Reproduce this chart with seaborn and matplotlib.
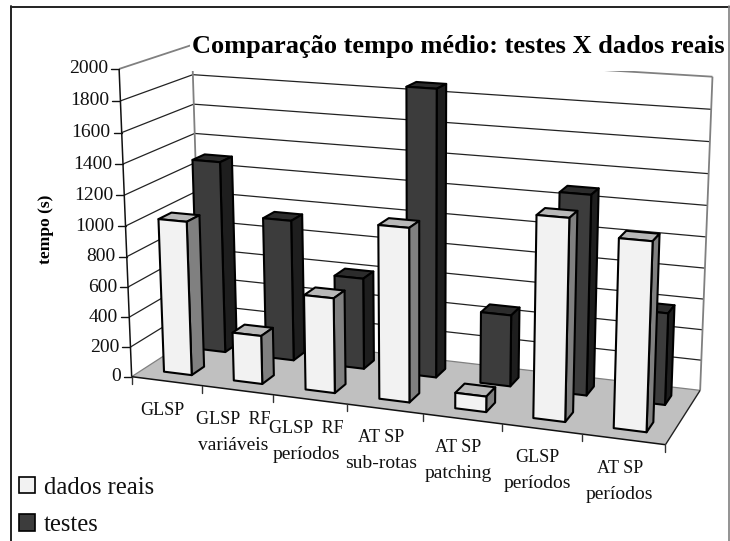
import numpy as np
import matplotlib
matplotlib.use("Agg")
import matplotlib.pyplot as plt
from matplotlib.patches import Polygon, Rectangle, Patch
import seaborn as sns

# ---------- data ----------
categories = ["GLSP", "GLSP  RF\nvariáveis", "GLSP  RF\nperíodos", "AT SP\nsub-rotas",
              "AT SP\npatching", "GLSP\nperíodos", "AT SP\nperíodos"]
dados_reais = [1020, 320, 620, 1115, 100, 1265, 1170]
testes = [1300, 950, 610, 1880, 470, 1290, 590]
series_names = ["dados reais", "testes"]
y_ticks = [0, 200, 400, 600, 800, 1000, 1200, 1400, 1600, 1800, 2000]
title = "Comparação tempo médio: testes X dados reais"
y_label = "tempo (s)"

sns.set_theme(style="white")
plt.rcParams["font.family"] = ["Liberation Serif", "DejaVu Serif"]
front_pal = sns.color_palette(["#F2F2F2", "#808080", "#B8B8B8"])
back_pal = sns.color_palette(["#3C3C3C", "#1E1E1E", "#2C2C2C"])

W, H = 730, 541
fig = plt.figure(figsize=(W / 100, H / 100), dpi=100, facecolor="white")
ax = fig.add_axes([0, 0, 1, 1])
ax.set_xlim(0, W)
ax.set_ylim(H, 0)
ax.axis("off")

# ---------- perspective camera calibrated on the chart box ----------
n = len(categories)
tick_px = [131, 202, 273, 347, 423, 503, 582, 666]
calib = [((k, 0, 0), (x, 376 + (x - 131) * 69 / 535)) for k, x in enumerate(tick_px)]
calib += [((0, 0, 2000), (119.5, 69)), ((0, 0, 1600), (122, 133.3)), ((0, 0, 1000), (125.5, 226)),
          ((0, 0, 400), (129, 318)),
          ((0, 1, 0), (202, 333)), ((0, 1, 1800), (192.7, 74)), ((0, 1, 1400), (193.5, 133)),
          ((0, 1, 2000), (192.5, 45)),
          ((n, 1, 0), (700, 390)), ((n, 1, 2000), (713, 76)), ((n, 1, 1800), (711, 110)),
          ((n, 1, 1400), (708, 174))]
A = []
for (u, d, z), (px, py) in calib:
    z = z / 1000
    A.append([u, d, z, 1, 0, 0, 0, 0, -px * u, -px * d, -px * z, -px])
    A.append([0, 0, 0, 0, u, d, z, 1, -py * u, -py * d, -py * z, -py])
P = np.linalg.svd(np.array(A))[2][-1].reshape(3, 4)


def proj(u, d, z):
    v = P @ np.array([u, d, z / 1000, 1.0])
    return v[0] / v[2], v[1] / v[2]


def poly(pts, fc, ec="none", lw=0.0, z=1):
    ax.add_patch(Polygon([proj(*p) for p in pts], closed=True, fc=fc, ec=ec, lw=lw,
                         joinstyle="round", zorder=z))


def line(a, b, color="#222222", lw=0.9, z=2):
    pa, pb = proj(*a), proj(*b)
    ax.plot([pa[0], pb[0]], [pa[1], pb[1]], color=color, lw=lw, zorder=z, solid_capstyle="butt")


top = y_ticks[-1]
# floor
poly([(0, 0, 0), (n, 0, 0), (n, 1, 0), (0, 1, 0)], "#C0C0C0", z=1)
# grid on the two walls
for t in y_ticks[1:-1]:
    line((0, 0, t), (0, 1, t))
    line((0, 1, t), (n, 1, t))
GRAY = "#808080"
line((0, 0, top), (0, 1, top), GRAY, 1.3)
line((0, 1, top), (n, 1, top), GRAY, 1.3)
line((0, 1, 0), (0, 1, top), GRAY, 1.3)
line((n, 1, 0), (n, 1, top), GRAY, 1.3)
line((0, 0, 0), (0, 1, 0), GRAY, 0.9)
line((0, 1, 0), (n, 1, 0), GRAY, 0.9)
line((n, 1, 0), (n, 0, 0), "#222222", 1.0)
# front axes
line((0, 0, 0), (0, 0, top), "#111111", 1.1, 2)
line((0, 0, 0), (n, 0, 0), "#111111", 1.1, 2)
for t in y_ticks:
    x, y = proj(0, 0, t)
    ax.plot([x - 8, x], [y, y], color="#111111", lw=1.0, zorder=2)
    ax.text(x - 11, y, str(t), ha="right", va="center", fontsize=14, color="#111111")
for k in range(n + 1):
    x, y = proj(k, 0, 0)
    ax.plot([x, x], [y, y + 7], color="#333333", lw=1.0, zorder=2)


def bar(k, d0, d1, val, pal, z):
    u0, u1 = k + 0.3, k + 0.7
    poly([(u0, d1, val), (u1, d1, val), (u1, d0, val), (u0, d0, val)], pal[2], "black", 1.5, z)
    poly([(u1, d0, 0), (u1, d1, 0), (u1, d1, val), (u1, d0, val)], pal[1], "black", 1.5, z)
    poly([(u0, d0, 0), (u1, d0, 0), (u1, d0, val), (u0, d0, val)], pal[0], "black", 1.5, z)


for k, v in enumerate(testes):
    bar(k, 0.66, 0.84, v, back_pal, 3)
for k, v in enumerate(dados_reais):
    bar(k, 0.16, 0.34, v, front_pal, 4)

# category labels
for k, lab in enumerate(categories):
    x, y = proj(k + 0.5, 0, 0)
    lines = lab.split("\n")
    ax.text(x - 4, y + 29, lines[0], ha="center", va="center", fontsize=13, color="#111111", zorder=6)
    if len(lines) > 1:
        ax.text(x - 4, y + 55, lines[1], ha="center", va="center", fontsize=14, color="#111111", zorder=6)

# title on its white plate
ax.add_patch(Rectangle((190, 28), 538, 43, fc="white", ec="none", zorder=5))
ax.text(192, 46, title, ha="left", va="center", fontsize=19, fontweight="bold",
        color="black", zorder=6)
ax.text(46, 229, y_label, rotation=90, ha="center", va="center", fontsize=12.5,
        fontweight="bold", color="black")

# chart frame
ax.plot([11, 11], [6, 541], color="#222222", lw=1.4, zorder=7)
ax.plot([11, 730], [6.5, 6.5], color="#222222", lw=1.4, zorder=7)
ax.plot([729.3, 729.3], [6, 541], color=GRAY, lw=1.2, zorder=7)

# legend
handles = [Patch(fc=front_pal[0], ec="black", lw=1.2), Patch(fc=back_pal[0], ec="black", lw=1.2)]
ax.legend(handles, series_names, loc="lower left", bbox_to_anchor=(19 / W, 5 / H), frameon=False,
          fontsize=17.7, handlelength=0.65, handleheight=0.65, labelspacing=0.62, handletextpad=0.35,
          borderpad=0.0, borderaxespad=0.0, labelcolor="#111111")

fig.savefig("out.png", dpi=100)
